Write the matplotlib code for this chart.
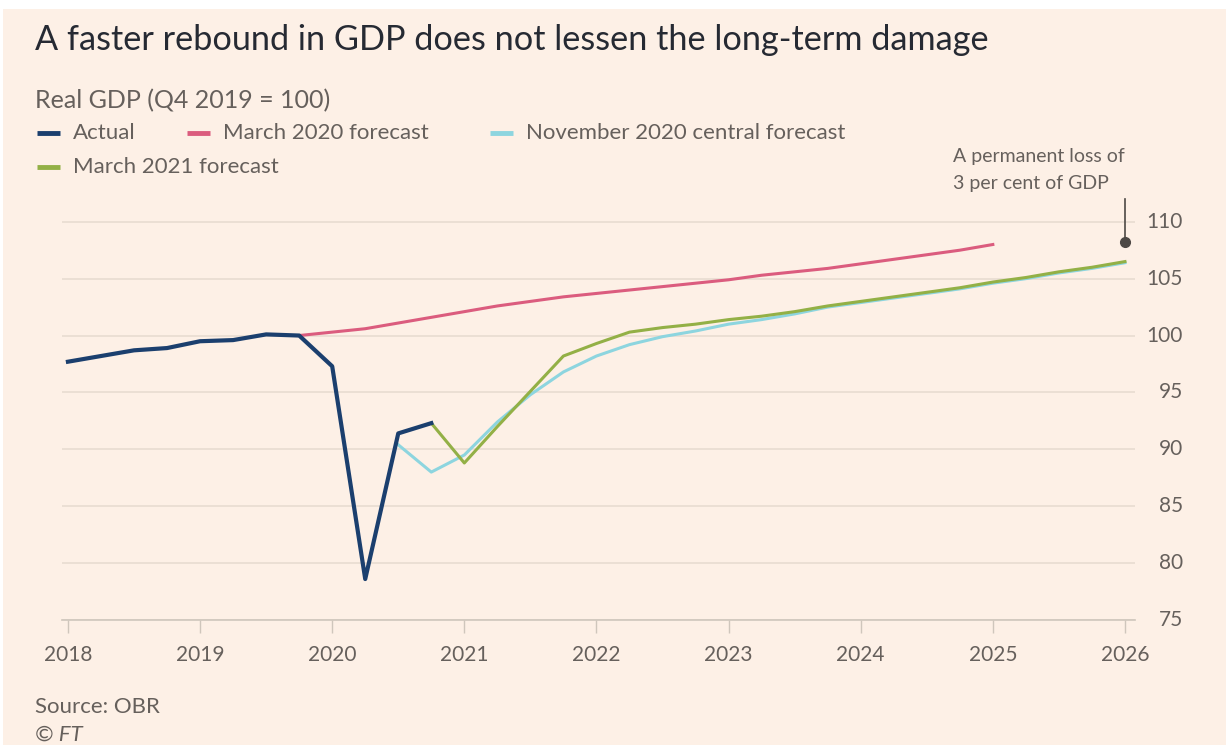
import matplotlib.pyplot as plt
from matplotlib.lines import Line2D
from matplotlib.patches import Rectangle
from matplotlib.transforms import blended_transform_factory

plt.rcParams['font.family'] = ['Lato', 'DejaVu Sans']

# quarterly series, index Q4 2019 = 100
actual_x = [2018.0, 2018.25, 2018.5, 2018.75, 2019.0, 2019.25, 2019.5, 2019.75,
            2020.0, 2020.25, 2020.5, 2020.75]
actual_y = [97.7, 98.2, 98.7, 98.9, 99.5, 99.6, 100.1, 100.0,
            97.3, 78.6, 91.4, 92.3]

mar20_x = [2019.75 + 0.25 * i for i in range(22)]
mar20_y = [100.0, 100.3, 100.6, 101.1, 101.6, 102.1, 102.6, 103.0, 103.4, 103.7, 104.0,
           104.3, 104.6, 104.9, 105.3, 105.6, 105.9, 106.3, 106.7, 107.1, 107.5, 108.0]

nov20_x = [2020.5 + 0.25 * i for i in range(23)]
nov20_y = [90.4, 88.0, 89.5, 92.4, 94.8, 96.8, 98.2, 99.2, 99.9, 100.4, 101.0, 101.4,
           101.9, 102.5, 102.9, 103.3, 103.7, 104.1, 104.6, 105.0, 105.5, 105.9, 106.4]

mar21_x = [2020.75 + 0.25 * i for i in range(22)]
mar21_y = [92.3, 88.8, 92.0, 95.1, 98.2, 99.3, 100.3, 100.7, 101.0, 101.4, 101.7,
           102.1, 102.6, 103.0, 103.4, 103.8, 104.2, 104.7, 105.1, 105.6, 106.0, 106.5]

series_names = ['Actual', 'March 2020 forecast', 'November 2020 central forecast',
                'March 2021 forecast']
series_colors = ['#1B3F6E', '#DB5C7E', '#8DD5DF', '#93B046']

years = list(range(2018, 2027))
y_ticks = [75, 80, 85, 90, 95, 100, 105, 110]
loss_point = (2026, 108.2)

bg = '#FDF0E6'
text_grey = '#66605C'

fig = plt.figure(figsize=(12.26, 7.45), dpi=100, facecolor='white')
fig.patches.append(Rectangle((3 / 1226, 0), 1, 1 - 9 / 745, transform=fig.transFigure,
                             facecolor=bg, edgecolor='none', zorder=-10))

ax = fig.add_axes([62 / 1226, 1 - 620 / 745, (1135 - 62) / 1226, (620 - 199) / 745])
ax.set_facecolor(bg)

ax.plot(nov20_x, nov20_y, color=series_colors[2], lw=2.2, zorder=3)
ax.plot(mar21_x, mar21_y, color=series_colors[3], lw=2.2, zorder=4)
ax.plot(mar20_x, mar20_y, color=series_colors[1], lw=2.2, zorder=4)
ax.plot(actual_x, actual_y, color=series_colors[0], lw=3.0, zorder=5)

ax.set_xlim(2017.955, 2026.076)
ax.set_ylim(75, 112)
ax.set_yticks(y_ticks)
ax.set_xticks(years)
ax.set_xticklabels([str(y) for y in years])
ax.grid(axis='y', color='#E8DCD1', lw=1.2)
ax.set_axisbelow(True)
for side in ['top', 'right', 'left']:
    ax.spines[side].set_visible(False)
ax.spines['bottom'].set_color('#CFC6BC')
ax.spines['bottom'].set_linewidth(1.2)

# y labels sit right-aligned to the right of the plot area
ax.tick_params(axis='y', length=0, labelleft=False)
ylab_tr = blended_transform_factory(fig.transFigure, ax.transData)
for v in y_ticks:
    ax.text(1183 / 1226, v, str(v), transform=ylab_tr, ha='right', va='center',
            fontsize=15, color=text_grey, clip_on=False)
ax.tick_params(axis='x', length=9, width=1.0, color='#CFC6BC', pad=9,
               labelsize=15, labelcolor=text_grey)

# annotation: marker and leader line
ax.plot([loss_point[0], loss_point[0]], [loss_point[1], 112], color='#4D4845', lw=1.2,
        clip_on=False, zorder=6)
ax.plot([loss_point[0]], [loss_point[1]], 'o', color='#4D4845', ms=7, clip_on=False, zorder=7)
fig.text(953 / 1226, 1 - 170 / 745, 'A permanent loss of\n3 per cent of GDP', fontsize=14,
         color=text_grey, ha='left', va='center', linespacing=1.75)

# titles
fig.text(35 / 1226, 1 - 40 / 745, 'A faster rebound in GDP does not lessen the long-term damage',
         fontsize=24.7, color='#262A33', ha='left', va='center')
fig.text(35 / 1226, 1 - 101 / 745, 'Real GDP (Q4 2019 = 100)', fontsize=18,
         color=text_grey, ha='left', va='center')

# legend
legend_pos = [(37, 133), (187, 133), (490, 133), (37, 167)]
for (lx, ly), name, col in zip(legend_pos, series_names, series_colors):
    fy = 1 - ly / 745
    fig.add_artist(Line2D([lx / 1226, (lx + 23) / 1226], [fy, fy], transform=fig.transFigure,
                          color=col, lw=3.5, solid_capstyle='butt'))
    fig.text((lx + 36) / 1226, fy, name, fontsize=16, color=text_grey, ha='left', va='center')

fig.text(35 / 1226, 1 - 707 / 745, 'Source: OBR', fontsize=16, color=text_grey,
         ha='left', va='center')
fig.text(35 / 1226, 1 - 735 / 745, '© FT', fontsize=16, color=text_grey, style='italic',
         ha='left', va='center')

fig.savefig('out.png', dpi=100, facecolor=fig.get_facecolor())
